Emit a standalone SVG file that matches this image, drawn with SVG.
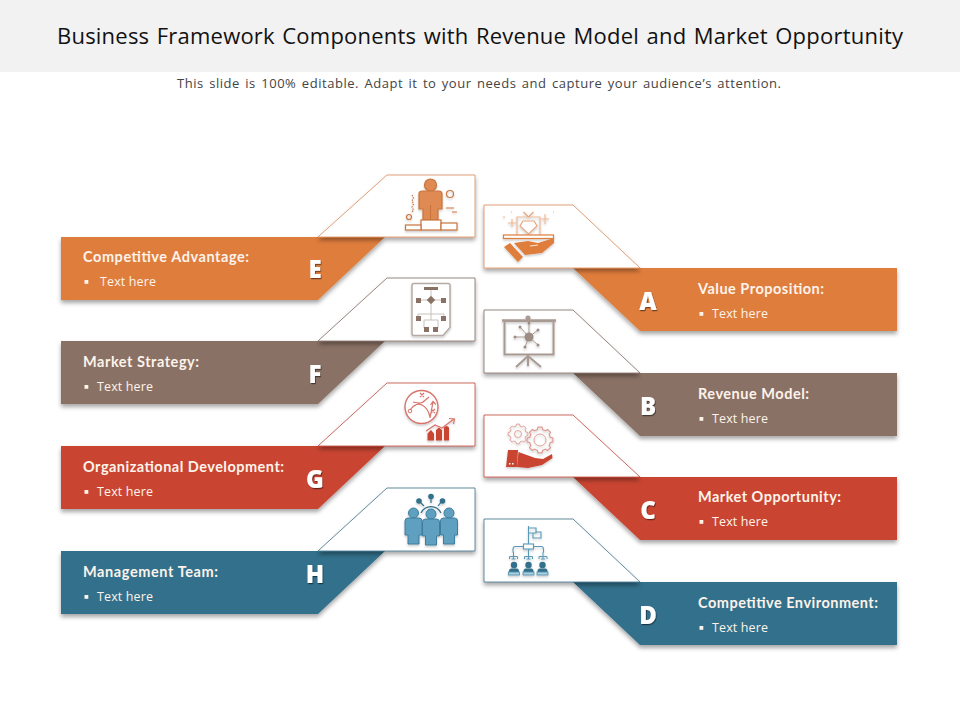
<svg xmlns="http://www.w3.org/2000/svg" xmlns:xlink="http://www.w3.org/1999/xlink" width="960" height="720" viewBox="0 0 960 720">
<style>
.title{font:400 22px "Open Sans","Liberation Sans",sans-serif;fill:#111;word-spacing:1.500px}
.sub{font:400 13px "Open Sans","Liberation Sans",sans-serif;fill:#444;word-spacing:1.500px}
.h{font:700 14.5px Lato,"Liberation Sans",sans-serif;fill:#fdf3ea}
.t{font:400 12.5px "Open Sans","Liberation Sans",sans-serif;fill:#fdf3ea}
.l{font:800 24px "Open Sans","Liberation Sans",sans-serif;fill:#fff;text-anchor:middle;filter:url(#ls)}
.band{filter:url(#sh)}
.panel{fill:#fff;stroke-width:.8;filter:url(#sh)}
.or{fill:#df7d3c}.br{fill:#8a7165}.re{fill:#c94433}.te{fill:#336f8b}
.so{stroke:#d98a58}.sb{stroke:#7d6a60}.sr{stroke:#c0483a}.st{stroke:#3c6f88}
.blt{fill:#fdf3ea}
.ic{filter:url(#is)}
</style>
<defs>
<filter id="sh" x="-10%" y="-15%" width="120%" height="135%"><feDropShadow dx="0" dy="3" stdDeviation="2" flood-color="#000" flood-opacity=".35"/></filter>
<filter id="ls" x="-30%" y="-30%" width="170%" height="170%"><feDropShadow dx="0.8" dy="1.2" stdDeviation=".6" flood-color="#000" flood-opacity=".5"/></filter>
<filter id="is" x="-20%" y="-20%" width="140%" height="150%"><feDropShadow dx="0" dy="1.5" stdDeviation="1.2" flood-color="#000" flood-opacity=".22"/></filter>
<polygon id="gear" points="7.96,-1.98 9.88,-1.56 9.88,1.56 7.96,1.98 7.03,4.22 8.09,5.88 5.88,8.09 4.22,7.03 1.98,7.96 1.56,9.88 -1.56,9.88 -1.98,7.96 -4.22,7.03 -5.88,8.09 -8.09,5.88 -7.03,4.22 -7.96,1.98 -9.88,1.56 -9.88,-1.56 -7.96,-1.98 -7.03,-4.22 -8.09,-5.88 -5.88,-8.09 -4.22,-7.03 -1.98,-7.96 -1.56,-9.88 1.56,-9.88 1.98,-7.96 4.22,-7.03 5.88,-8.09 8.09,-5.88 7.03,-4.22"/>
<g id="man"><circle cx="0" cy="-12" r="5" fill="#5f9fbf" stroke="#3f7d9c" stroke-width="1"/><path d="M-8.500-4q0-3 3-3h11q3 0 3 3v14h-3v9h-11v-9h-3z" fill="#5f9fbf" stroke="#3f7d9c" stroke-width="1"/></g>
<g id="mini"><path d="M0 0v7M-4 7v-2.500h8v2.500M-2 7h4" fill="none" stroke="#5a9ab8" stroke-width="1"/></g>
<g id="pers"><circle cx="0" cy="3" r="3.200" fill="#336f8b"/><path d="M-5 12v-3q0-2.500 2.500-2.500h5q2.500 0 2.500 2.500v3z" fill="#336f8b"/><rect x="-5.500" y="10" width="11" height="3" fill="#a8cfe0" stroke="#4b8cab" stroke-width=".8"/></g>
</defs>
<rect id="title-bar" width="960" height="72" fill="#f2f2f2"/>
<text class="title" x="57" y="44" textLength="846" lengthAdjust="spacing">Business Framework Components with Revenue Model and Market Opportunity</text>
<text class="sub" x="177" y="88" textLength="604" lengthAdjust="spacing">This slide is 100% editable. Adapt it to your needs and capture your audience’s attention.</text>
<g id="connectors"></g>

<g id="node-E">
<polygon class="band or" points="61,237 385,237 318,300 61,300"/>
<polygon class="panel so" points="318,237 387,175 475,175 475,237"/>
<g class="ic" fill="none" stroke="#c9743d" stroke-width="1.200">
<circle cx="430.500" cy="185" r="6" fill="#e08a52"/>
<path d="M419 194q0-3 3-3h17q3 0 3 3v15h-4v11h-15v-11h-4z" fill="#e08a52"/>
<path d="M430.500 205v15"/>
<rect x="421" y="220" width="20" height="10" fill="#fff"/>
<rect x="405.500" y="225" width="15.500" height="5" fill="#fff"/>
<rect x="441" y="223" width="16" height="7" fill="#fff"/>
<circle cx="450" cy="194" r="3.500"/>
<circle cx="409" cy="217" r="2.500"/>
<path d="M412 195l1.500 3-1.500 3 1.500 3-1.500 3 1.500 3-1.500 2" stroke-dasharray="1.500 1"/>
<path d="M446 208h8M452 212h5"/>
</g>
<text class="l" x="315" y="278">E</text>
<text class="h" x="83" y="262" textLength="166" lengthAdjust="spacing">Competitive Advantage:</text>
<rect class="blt" x="84.500" y="280" width="3.800" height="3.800"/>
<text class="t" x="100" y="286" textLength="56" lengthAdjust="spacing">Text here</text>
</g>

<g id="node-F">
<polygon class="band br" points="61,341 385,341 318,404 61,404"/>
<polygon class="panel sb" points="318,341 387,278 475,278 475,341"/>
<g class="ic">
<path d="M414 283.500h34q2 0 2 2v42l-7 8h-29q-2 0-2-2v-48q0-2 2-2z" fill="#fff" stroke="#b5aaa4" stroke-width="1.500"/>
<path d="M431 290v6M417 300h26M431 304v10M418 318v-4h26v4M431 314v6M424 320h14v8M424 320v8" fill="none" stroke="#c9c1bb" stroke-width="1"/>
<rect x="424" y="287" width="14" height="3" fill="#8a7165"/>
<rect x="416" y="298" width="5" height="5" fill="#8a7165"/>
<rect x="441" y="298" width="5" height="5" fill="#8a7165"/>
<rect x="428" y="297" width="6" height="6" fill="#8a7165" transform="rotate(45 431 300)"/>
<rect x="416" y="316" width="5" height="5" fill="#8a7165"/>
<rect x="441" y="316" width="5" height="5" fill="#8a7165"/>
<rect x="424" y="327" width="5" height="5" fill="#8a7165"/>
<rect x="433" y="327" width="5" height="5" fill="#8a7165"/>
</g>
<text class="l" x="315" y="383">F</text>
<text class="h" x="83" y="367" textLength="116" lengthAdjust="spacing">Market Strategy:</text>
<rect class="blt" x="84.500" y="385" width="3.800" height="3.800"/>
<text class="t" x="97" y="391" textLength="56" lengthAdjust="spacing">Text here</text>
</g>

<g id="node-G">
<polygon class="band re" points="61,446 385,446 318,509 61,509"/>
<polygon class="panel sr" points="318,446 387,383 475,383 475,446"/>
<g class="ic">
<circle cx="421.500" cy="407" r="16.500" fill="#fff" stroke="#d8736a" stroke-width="1.400"/>
<path d="M410 410q6-8 12-5t8 12M413 402q8 2 10 0l6-5M430 418l3-16M430.500 405l2.500-3.500 3 3M420 393l4 4M424 393l-4 4M431 409l4 4M435 409l-4 4" fill="none" stroke="#d8736a" stroke-width="1.200"/>
<circle cx="410" cy="411" r="1.800" fill="none" stroke="#d8736a"/>
<path d="M427.500 440.500v-7l3.500-3.500 3 3.500v7zM436 440.500v-10.500l3-2.500 3 2.500v10.500zM444 440.500v-13q2.500-3 5 0v13z" fill="#c94433"/>
<path d="M426 431l9-6 7 3 12-9M449 418.500l5.500 .5-1 5" fill="none" stroke="#d8736a" stroke-width="1.200"/>
</g>
<text class="l" x="315" y="488">G</text>
<text class="h" x="83" y="472" textLength="201" lengthAdjust="spacing">Organizational Development:</text>
<rect class="blt" x="84.500" y="490" width="3.800" height="3.800"/>
<text class="t" x="97" y="496" textLength="56" lengthAdjust="spacing">Text here</text>
</g>

<g id="node-H">
<polygon class="band te" points="61,551 385,551 318,614 61,614"/>
<polygon class="panel st" points="318,551 387,488 475,488 475,551"/>
<g class="ic">
<path d="M421 513a11 11 0 0 1 20 0M419 501l5 5M431 496v7M442 501l-4 5" fill="none" stroke="#336f8b" stroke-width="1.200"/>
<circle cx="419" cy="501" r="2.800" fill="#336f8b"/><circle cx="431" cy="496.500" r="2.800" fill="#336f8b"/><circle cx="442.500" cy="501" r="2.800" fill="#336f8b"/>
<use xlink:href="#man" href="#man" x="413.500" y="525"/>
<use xlink:href="#man" href="#man" x="449" y="525"/>
<use xlink:href="#man" href="#man" x="431" y="526"/>
</g>
<text class="l" x="315" y="583">H</text>
<text class="h" x="83" y="577" textLength="135" lengthAdjust="spacing">Management Team:</text>
<rect class="blt" x="84.500" y="595" width="3.800" height="3.800"/>
<text class="t" x="97" y="601" textLength="56" lengthAdjust="spacing">Text here</text>
</g>

<g id="node-A">
<polygon class="band or" points="573,268 897,268 897,331 640,331"/>
<polygon class="panel so" points="484,205 573,205 640,268 484,268"/>
<g class="ic">
<path d="M517 235v-18h23v18" fill="none" stroke="#eeb795" stroke-width="1.200"/>
<path d="M528.500 217l-5-5M528.500 217l5-5M523 221h11l3 5-8.500 8-8.500-8z" fill="#fff" stroke="#e7a67d" stroke-width="1.200"/>
<path d="M512 219v8M508 223h8M545 214v10M541 219h8M503 217h2M553 212h1M511 212h1" fill="none" stroke="#eeb795" stroke-width="1.100"/>
<rect x="503.500" y="235" width="50" height="3.500" fill="#fff" stroke="#df7d3c" stroke-width="1.200"/>
<path d="M514 243l14-2 10 2 16-5v5l-12 10-17 2z" fill="#df7d3c"/>
<path d="M504 247l6-4 13 14-5 5z" fill="#df7d3c"/>
<path d="M530 246l8-1" stroke="#fff" stroke-width=".8"/>
</g>
<text class="l" x="648" y="310">A</text>
<text class="h" x="698" y="294" textLength="126" lengthAdjust="spacing">Value Proposition:</text>
<rect class="blt" x="699.500" y="312" width="3.800" height="3.800"/>
<text class="t" x="712" y="318" textLength="56" lengthAdjust="spacing">Text here</text>
</g>

<g id="node-B">
<polygon class="band br" points="573,373 897,373 897,436 640,436"/>
<polygon class="panel sb" points="484,310 573,310 640,373 484,373"/>
<g class="ic" fill="none" stroke="#a89a92" stroke-width="2">
<circle cx="528" cy="318" r="1.500" fill="#a89a92"/>
<path d="M502 320.500h54" stroke-width="2.500"/>
<rect x="504.500" y="321" width="49" height="33.500"/>
<path d="M528 355v11M528 356l-12 11M528 356l13 11"/>
<path d="M529 337l-9-10M529 337l0-14M529 337l9-7M529 337l9 8M529 337l-4 10M529 337h-14" stroke-width="1"/>
<circle cx="529" cy="337" r="4.500" fill="#9c8d85" stroke="none"/>
<g fill="#9c8d85" stroke="none"><circle cx="520" cy="327" r="1.500"/><circle cx="538" cy="330" r="1.500"/><circle cx="538" cy="345" r="1.500"/><circle cx="525" cy="347" r="1.500"/><circle cx="515" cy="337" r="1.500"/><circle cx="529" cy="323" r="1.500"/></g>
</g>
<text class="l" x="648" y="415">B</text>
<text class="h" x="698" y="399" textLength="111" lengthAdjust="spacing">Revenue Model:</text>
<rect class="blt" x="699.500" y="417" width="3.800" height="3.800"/>
<text class="t" x="712" y="423" textLength="56" lengthAdjust="spacing">Text here</text>
</g>

<g id="node-C">
<polygon class="band re" points="573,477 897,477 897,540 640,540"/>
<polygon class="panel sr" points="484,415 573,415 640,477 484,477"/>
<g class="ic">
<g fill="none" stroke="#dd9a92" stroke-width=".9">
<use xlink:href="#gear" href="#gear" transform="translate(518 434)"/>
<circle cx="518" cy="434" r="3.500"/>
<use xlink:href="#gear" href="#gear" transform="translate(540 440) scale(1.300)"/>
<circle cx="540" cy="440" r="6"/>
</g>
<path d="M508 450h10l-1 17h-11z" fill="#c94433"/>
<path d="M518.500 452l16.500 6 8 1 9-5 .5 4-10.500 7-14 3-11-1z" fill="#c94433"/>
<rect x="509" y="463" width="1.500" height="1.500" fill="#fff"/><rect x="512" y="463" width="1.500" height="1.500" fill="#fff"/>
</g>
<text class="l" x="648" y="519">C</text>
<text class="h" x="698" y="502" textLength="143" lengthAdjust="spacing">Market Opportunity:</text>
<rect class="blt" x="699.500" y="520" width="3.800" height="3.800"/>
<text class="t" x="712" y="526" textLength="56" lengthAdjust="spacing">Text here</text>
</g>

<g id="node-D">
<polygon class="band te" points="573,582 897,582 897,645 640,645"/>
<polygon class="panel st" points="484,519 573,519 640,582 484,582"/>
<g class="ic">
<path d="M528.500 526v18M528.500 528h7.500v5h-7.500M533 533v5h8v-6h-5M523.500 546.500h-8.500q-2 0-2 3v3M533.500 546.500h8q2 0 2 3v3M528.500 549v3" fill="none" stroke="#5a9ab8" stroke-width="1.100"/>
<rect x="523.500" y="544" width="10" height="5" fill="#fff" stroke="#5a9ab8" stroke-width="1.100"/>
<use xlink:href="#mini" href="#mini" x="513.500" y="552"/>
<use xlink:href="#mini" href="#mini" x="528.500" y="552"/>
<use xlink:href="#mini" href="#mini" x="543" y="552"/>
<use xlink:href="#pers" href="#pers" x="514" y="562"/>
<use xlink:href="#pers" href="#pers" x="528.500" y="562"/>
<use xlink:href="#pers" href="#pers" x="542.500" y="562"/>
</g>
<text class="l" x="648" y="624">D</text>
<text class="h" x="698" y="608" textLength="180" lengthAdjust="spacing">Competitive Environment:</text>
<rect class="blt" x="699.500" y="626" width="3.800" height="3.800"/>
<text class="t" x="712" y="632" textLength="56" lengthAdjust="spacing">Text here</text>
</g>
</svg>
